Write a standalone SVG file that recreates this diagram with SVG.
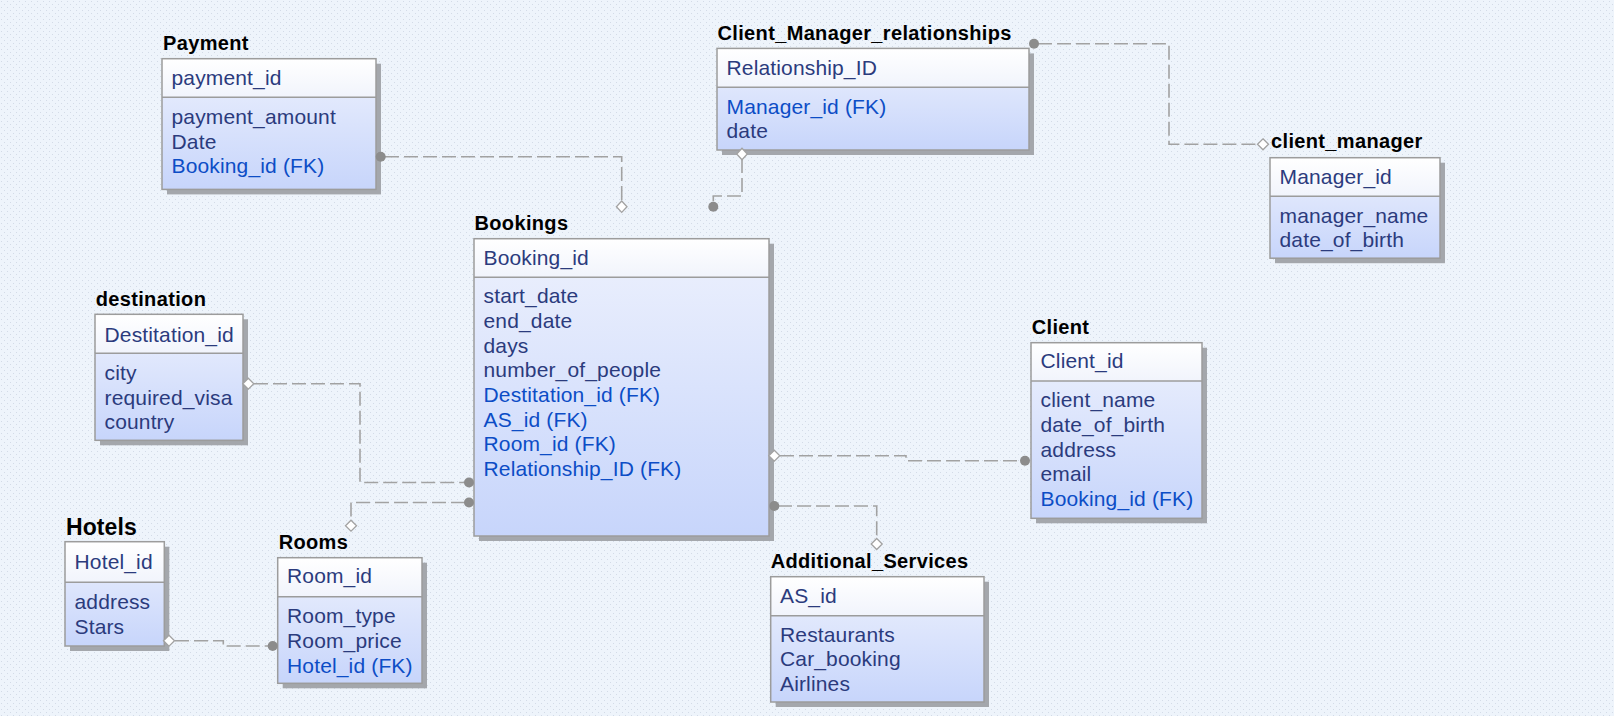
<svg xmlns="http://www.w3.org/2000/svg" width="1614" height="716" viewBox="0 0 1614 716">
<defs>
  <pattern id="bgp" x="0" y="0" width="6" height="6" patternUnits="userSpaceOnUse">
    <rect width="6" height="6" fill="#eef4fb"/>
    <rect x="1" y="1" width="1" height="1" fill="#d3dbe7"/>
    <rect x="4" y="4" width="1" height="1" fill="#d3dbe7"/>
  </pattern>
  <linearGradient id="hdr" x1="0" y1="0" x2="0" y2="1">
    <stop offset="0" stop-color="#ffffff"/>
    <stop offset="1" stop-color="#f1f4fc"/>
  </linearGradient>
  <linearGradient id="body" x1="0" y1="0" x2="0" y2="1">
    <stop offset="0" stop-color="#edf1fd"/>
    <stop offset="1" stop-color="#c7d5fb"/>
  </linearGradient>
  <style>
    .title{font-family:"Liberation Sans",Arial,sans-serif;font-weight:bold;font-size:20px;letter-spacing:0.35px;fill:#000}
    .big{font-size:23px;letter-spacing:0.1px}
    .f{font-family:"Liberation Sans",Arial,sans-serif;font-size:21px;letter-spacing:0.15px;fill:#2b3b7d}
    .fk{fill:#0c4dc6}
    .sh{fill:#a4a7ac}
    .hd{fill:url(#hdr)}
    .bd{fill:url(#body)}
    .frame{fill:none;stroke:#9c9c9c;stroke-width:1.5}
    .div{stroke:#9c9c9c;stroke-width:1.5}
    .conn path{fill:none;stroke:#a2a2a2;stroke-width:1.6;stroke-dasharray:14 5}
    .dot{fill:#8c8c8c}
    .conn path.dia{fill:#ffffff;stroke:#a2a2a2;stroke-width:1.3;stroke-dasharray:none}
  </style>
</defs>
<rect width="1614" height="716" fill="url(#bgp)"/>

<g id="payment">
  <text class="title" x="163" y="50">Payment</text>
  <rect class="sh" x="167" y="63.7" width="214" height="130.7"/>
  <rect class="bd" x="162" y="58.7" width="214" height="130.7"/>
  <rect class="hd" x="162" y="58.7" width="214" height="38.6"/>
  <line class="div" x1="162" y1="97.3" x2="376" y2="97.3"/>
  <rect class="frame" x="162" y="58.7" width="214" height="130.7"/>
  <text class="f" x="171.5" y="85">payment_id</text>
  <text class="f" x="171.5" y="124">payment_amount</text>
  <text class="f" x="171.5" y="148.7">Date</text>
  <text class="f fk" x="171.5" y="173.4">Booking_id (FK)</text>
</g>

<g id="client_manager_relationships">
  <text class="title" x="717.5" y="40">Client_Manager_relationships</text>
  <rect class="sh" x="722" y="53.4" width="312" height="101.6"/>
  <rect class="bd" x="717" y="48.4" width="312" height="101.6"/>
  <rect class="hd" x="717" y="48.4" width="312" height="38.8"/>
  <line class="div" x1="717" y1="87.2" x2="1029" y2="87.2"/>
  <rect class="frame" x="717" y="48.4" width="312" height="101.6"/>
  <text class="f" x="726.5" y="74.5">Relationship_ID</text>
  <text class="f fk" x="726.5" y="113.7">Manager_id (FK)</text>
  <text class="f" x="726.5" y="138.4">date</text>
</g>

<g id="client_manager">
  <text class="title" x="1271" y="148.3">client_manager</text>
  <rect class="sh" x="1275" y="162.7" width="170" height="100.5"/>
  <rect class="bd" x="1270" y="157.7" width="170" height="100.5"/>
  <rect class="hd" x="1270" y="157.7" width="170" height="38.6"/>
  <line class="div" x1="1270" y1="196.3" x2="1440" y2="196.3"/>
  <rect class="frame" x="1270" y="157.7" width="170" height="100.5"/>
  <text class="f" x="1279.5" y="184">Manager_id</text>
  <text class="f" x="1279.5" y="222.7">manager_name</text>
  <text class="f" x="1279.5" y="247.4">date_of_birth</text>
</g>

<g id="destination">
  <text class="title" x="95.7" y="306">destination</text>
  <rect class="sh" x="100" y="319.3" width="148" height="126"/>
  <rect class="bd" x="95" y="314.3" width="148" height="126"/>
  <rect class="hd" x="95" y="314.3" width="148" height="39"/>
  <line class="div" x1="95" y1="353.3" x2="243" y2="353.3"/>
  <rect class="frame" x="95" y="314.3" width="148" height="126"/>
  <text class="f" x="104.5" y="341.7">Destitation_id</text>
  <text class="f" x="104.5" y="380">city</text>
  <text class="f" x="104.5" y="404.7">required_visa</text>
  <text class="f" x="104.5" y="429.4">country</text>
</g>

<g id="bookings">
  <text class="title" x="474.5" y="230">Bookings</text>
  <rect class="sh" x="479" y="243.7" width="295" height="297.3"/>
  <rect class="bd" x="474" y="238.7" width="295" height="297.3"/>
  <rect class="hd" x="474" y="238.7" width="295" height="38.6"/>
  <line class="div" x1="474" y1="277.3" x2="769" y2="277.3"/>
  <rect class="frame" x="474" y="238.7" width="295" height="297.3"/>
  <text class="f" x="483.5" y="265">Booking_id</text>
  <text class="f" x="483.5" y="303.3">start_date</text>
  <text class="f" x="483.5" y="328">end_date</text>
  <text class="f" x="483.5" y="352.7">days</text>
  <text class="f" x="483.5" y="377.4">number_of_people</text>
  <text class="f fk" x="483.5" y="402">Destitation_id (FK)</text>
  <text class="f fk" x="483.5" y="426.7">AS_id (FK)</text>
  <text class="f fk" x="483.5" y="451.4">Room_id (FK)</text>
  <text class="f fk" x="483.5" y="476">Relationship_ID (FK)</text>
</g>

<g id="client">
  <text class="title" x="1031.7" y="334.3">Client</text>
  <rect class="sh" x="1036" y="347.7" width="171" height="175.6"/>
  <rect class="bd" x="1031" y="342.7" width="171" height="175.6"/>
  <rect class="hd" x="1031" y="342.7" width="171" height="38.3"/>
  <line class="div" x1="1031" y1="381" x2="1202" y2="381"/>
  <rect class="frame" x="1031" y="342.7" width="171" height="175.6"/>
  <text class="f" x="1040.5" y="368.3">Client_id</text>
  <text class="f" x="1040.5" y="407.3">client_name</text>
  <text class="f" x="1040.5" y="432">date_of_birth</text>
  <text class="f" x="1040.5" y="456.7">address</text>
  <text class="f" x="1040.5" y="481.4">email</text>
  <text class="f fk" x="1040.5" y="506">Booking_id (FK)</text>
</g>

<g id="additional_services">
  <text class="title" x="770.7" y="567.7">Additional_Services</text>
  <rect class="sh" x="775.7" y="581.7" width="213.3" height="125.3"/>
  <rect class="bd" x="770.7" y="576.7" width="213.3" height="125.3"/>
  <rect class="hd" x="770.7" y="576.7" width="213.3" height="39"/>
  <line class="div" x1="770.7" y1="615.7" x2="984" y2="615.7"/>
  <rect class="frame" x="770.7" y="576.7" width="213.3" height="125.3"/>
  <text class="f" x="780" y="602.7">AS_id</text>
  <text class="f" x="780" y="641.7">Restaurants</text>
  <text class="f" x="780" y="666.4">Car_booking</text>
  <text class="f" x="780" y="691">Airlines</text>
</g>

<g id="hotels">
  <text class="title big" x="66" y="535">Hotels</text>
  <rect class="sh" x="70" y="546.7" width="99.3" height="104.3"/>
  <rect class="bd" x="65" y="541.7" width="99.3" height="104.3"/>
  <rect class="hd" x="65" y="541.7" width="99.3" height="40.6"/>
  <line class="div" x1="65" y1="582.3" x2="164.3" y2="582.3"/>
  <rect class="frame" x="65" y="541.7" width="99.3" height="104.3"/>
  <text class="f" x="74.5" y="569.3">Hotel_id</text>
  <text class="f" x="74.5" y="609.3">address</text>
  <text class="f" x="74.5" y="634">Stars</text>
</g>

<g id="rooms">
  <text class="title" x="278.7" y="549.3">Rooms</text>
  <rect class="sh" x="282.7" y="562.7" width="144.3" height="125.6"/>
  <rect class="bd" x="277.7" y="557.7" width="144.3" height="125.6"/>
  <rect class="hd" x="277.7" y="557.7" width="144.3" height="39"/>
  <line class="div" x1="277.7" y1="596.7" x2="422" y2="596.7"/>
  <rect class="frame" x="277.7" y="557.7" width="144.3" height="125.6"/>
  <text class="f" x="287" y="583.3">Room_id</text>
  <text class="f" x="287" y="623.3">Room_type</text>
  <text class="f" x="287" y="648">Room_price</text>
  <text class="f fk" x="287" y="672.7">Hotel_id (FK)</text>
</g>

<g id="connectors" class="conn">
  <path d="M385,156.7 H621.7 V201"/>
  <circle class="dot" cx="380.7" cy="156.7" r="5"/>
  <path class="dia" d="M621.7,201 L627,206.7 L621.7,212.4 L616.4,206.7 Z"/>

  <path d="M742,159 V196 H713.3 V202"/>
  <path class="dia" d="M742,148.3 L747.3,154 L742,159.7 L736.7,154 Z"/>
  <circle class="dot" cx="713.3" cy="206.7" r="5"/>

  <path d="M1038,43.7 H1169 V144.3 H1257"/>
  <circle class="dot" cx="1034" cy="43.7" r="5"/>
  <path class="dia" d="M1263,138.8 L1268.5,144.3 L1263,149.8 L1257.5,144.3 Z"/>

  <path d="M254,383.7 H360 V482.5 H465"/>
  <path class="dia" d="M248.3,378.2 L253.8,383.7 L248.3,389.2 L242.8,383.7 Z"/>
  <circle class="dot" cx="469" cy="482.5" r="5"/>

  <path d="M465,502.5 H351 V520"/>
  <circle class="dot" cx="469" cy="502.5" r="5"/>
  <path class="dia" d="M351,520.2 L356.5,525.7 L351,531.2 L345.5,525.7 Z"/>

  <path d="M780,455.7 H906 V460.7 H1021"/>
  <path class="dia" d="M774.3,450.2 L779.8,455.7 L774.3,461.2 L768.8,455.7 Z"/>
  <circle class="dot" cx="1025" cy="460.7" r="5"/>

  <path d="M778,506 H876.7 V538.5"/>
  <circle class="dot" cx="774.3" cy="506" r="5"/>
  <path class="dia" d="M876.7,538.5 L882.2,544 L876.7,549.5 L871.2,544 Z"/>

  <path d="M175,640.7 H223.3 V646 H268"/>
  <path class="dia" d="M169,635.2 L174.5,640.7 L169,646.2 L163.5,640.7 Z"/>
  <circle class="dot" cx="272.7" cy="646" r="5"/>
</g>
</svg>
